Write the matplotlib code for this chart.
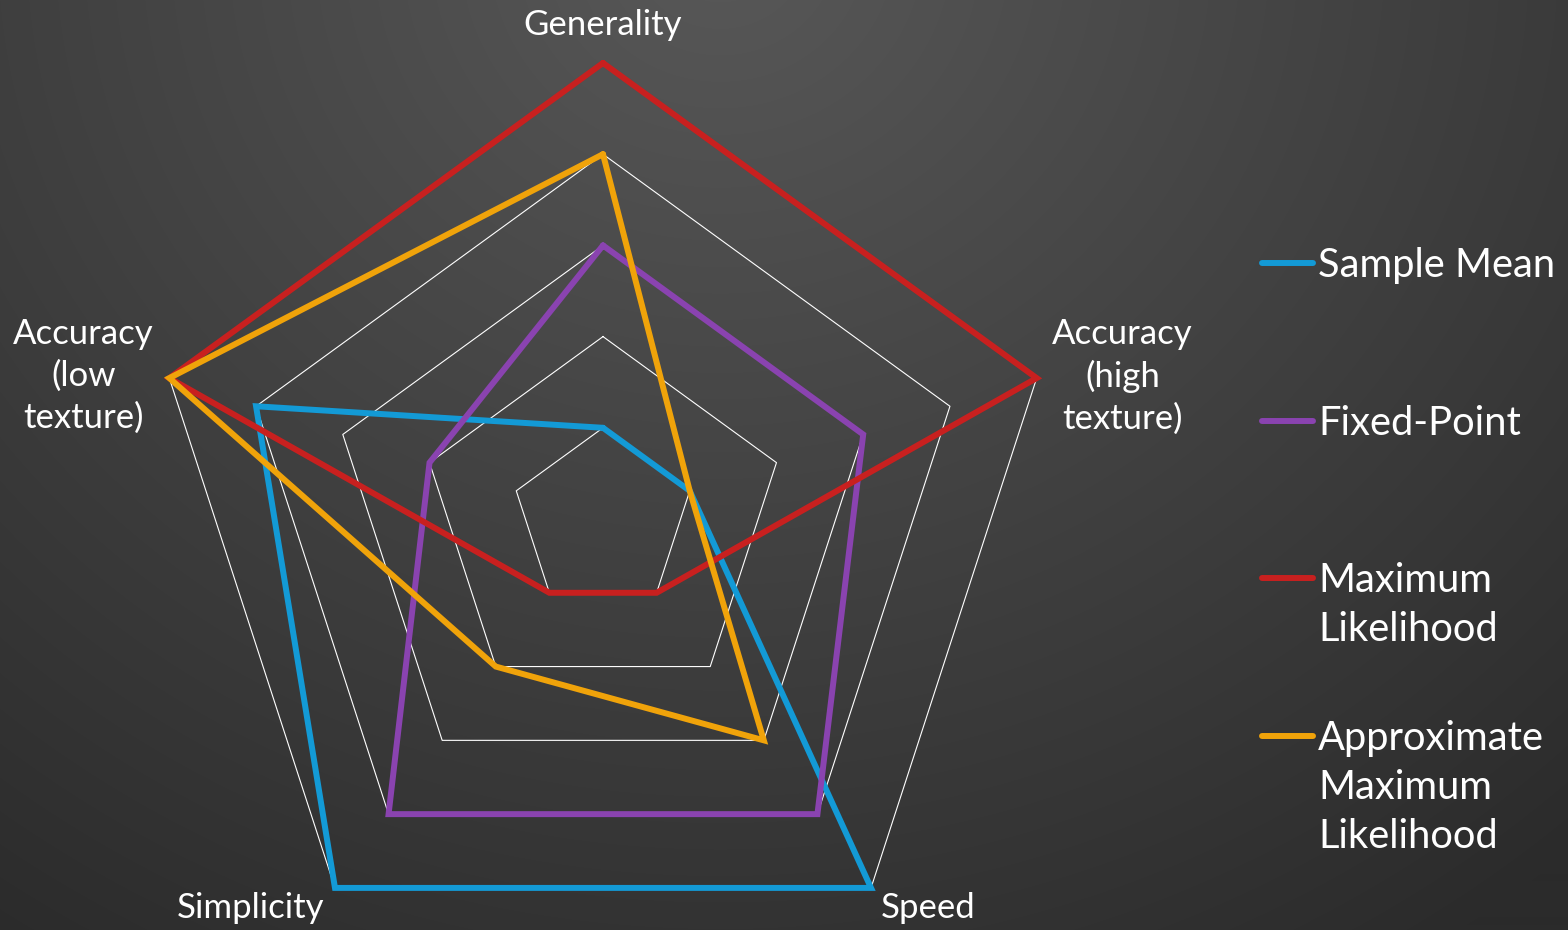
import matplotlib
matplotlib.use("Agg")
import matplotlib.pyplot as plt
from matplotlib.lines import Line2D
import numpy as np

# data ###################
categories = ["Generality", "Accuracy\n(high\ntexture)", "Speed",
              "Simplicity", "Accuracy\n(low\ntexture)"]
series_names = ["Sample Mean", "Fixed-Point", "Maximum\nLikelihood",
                "Approximate\nMaximum\nLikelihood"]
sample_mean = [1, 1, 5, 5, 4]
fixed_point = [3, 3, 4, 4, 2]
max_likelihood = [5, 5, 1, 1, 5]
approx_max_likelihood = [4, 1, 3, 2, 5]
ring_levels = [1, 2, 3, 4, 5]
##########################

series = [sample_mean, fixed_point, max_likelihood, approx_max_likelihood]
colors = ['#139ad6', '#8a43b0', '#c8201f', '#f0a30a']

# OPTIONS ################
W, H, DPI = 1568, 930, 100
cx, cy = 603, 519          # radar centre, pixels from top-left
scale = 456/5.             # pixels per unit value
font = "Lato"
##########################

plt.rcParams.update({"font.family": [font, "DejaVu Sans"]})

fig = plt.figure(figsize=(W/DPI, H/DPI), dpi=DPI)
ax = fig.add_axes([0, 0, 1, 1])
ax.set_xlim(-cx/scale, (W-cx)/scale)
ax.set_ylim(-(H-cy)/scale, cy/scale)
ax.axis('off')

# dark background, lighter towards the top middle
yy, xx = np.mgrid[0:H, 0:W]
d = np.sqrt(((xx-720)/1300.)**2 + ((yy+50)/1190.)**2)
shade = (88 - 45*np.clip(d, 0, 1))/255.
bg = np.dstack([shade, shade, shade])
ax.imshow(bg, extent=(*ax.get_xlim(), *ax.get_ylim()),
          aspect='auto', zorder=0, interpolation='bilinear')

# clockwise from the top
n = len(categories)
theta = np.pi/2 - 2*np.pi*np.arange(n)/n


def to_xy(vals):
    v = np.asarray(vals, dtype=float)
    x = v*np.cos(theta)
    y = v*np.sin(theta)
    return np.append(x, x[0]), np.append(y, y[0])


# pentagon grid
for lvl in ring_levels:
    gx, gy = to_xy([lvl]*n)
    ax.plot(gx, gy, color='white', lw=0.8, zorder=1)

# series
for vals, col in zip(series, colors):
    sx, sy = to_xy(vals)
    ax.plot(sx, sy, color=col, lw=4.3, solid_joinstyle='miter',
            solid_capstyle='round', zorder=2)

# category labels
rmax = max(ring_levels)
offsets = [(0, 38), (86, 2), (57, -20), (-84, -20), (-86, 2)]
for k, (lab, off) in enumerate(zip(categories, offsets)):
    ax.annotate(
        lab,
        (rmax*np.cos(theta[k]), rmax*np.sin(theta[k])),
        xytext=off, textcoords='offset pixels',
        ha='center', va='center', multialignment='center',
        color='white', fontsize=25, linespacing=1.36
    )

# legend, drawn by hand so the handle sits on the first text line
leg_x0, leg_x1, leg_tx = 1262/W, 1313/W, 1318/W
leg_top, leg_step = 263, 157.7
for i, (name, col) in enumerate(zip(series_names, colors)):
    yf = 1 - (leg_top + i*leg_step)/H
    fig.add_artist(Line2D([leg_x0, leg_x1], [yf, yf], color=col, lw=4.3,
                          solid_capstyle='round',
                          transform=fig.transFigure))
    fig.text(leg_tx, yf + 16/H, name, ha='left', va='top',
             color='white', fontsize=28.7, linespacing=1.4)

fig.savefig("out.png", dpi=DPI)
